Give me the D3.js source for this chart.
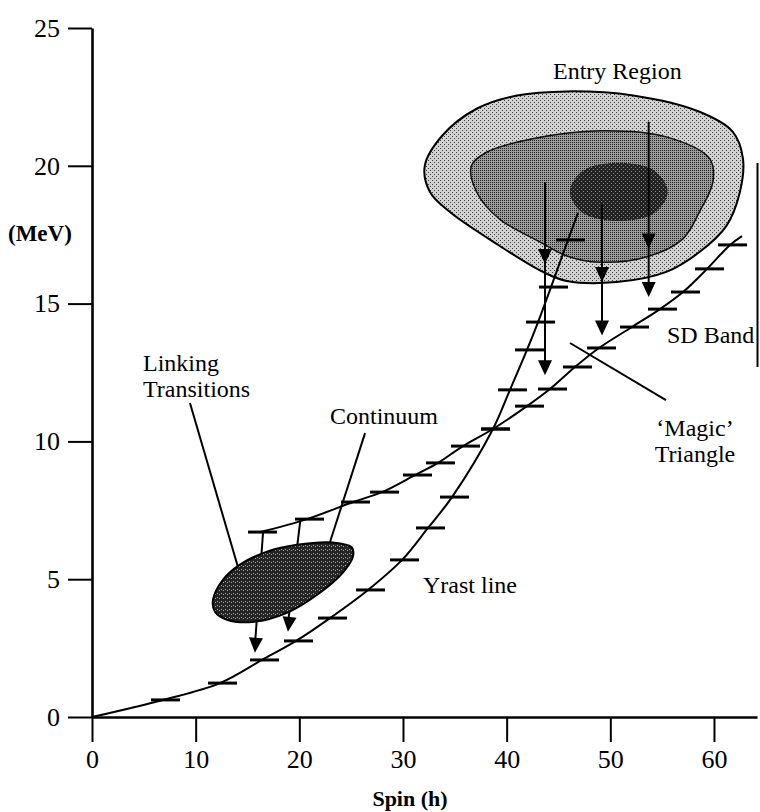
<!DOCTYPE html>
<html>
<head>
<meta charset="utf-8">
<script src="https://cdn.jsdelivr.net/npm/d3@7"></script>
<style>
  body { margin: 0; background: #fff; }
  text { font-family: "Liberation Serif", "Times New Roman", serif; fill: #000; }
</style>
</head>
<body>
<svg id="chart" width="760" height="812"></svg>
<script>
// axis ticks
const spinTicks = [0, 10, 20, 30, 40, 50, 60];
const energyTicks = [0, 5, 10, 15, 20, 25];

// yrast line levels (spin, MeV)
const yrastSpin = [6.85, 12.35, 16.4, 19.68, 22.96, 26.63, 29.91, 32.41, 34.73, 38.68, 40.32, 41.96, 43.03, 44.28, 45.92];
const yrastE    = [0.62, 1.23, 2.07, 2.76, 3.59, 4.61, 5.7, 6.86, 7.98, 10.45, 11.87, 13.32, 14.33, 15.6, 17.31];
const yrastStart = [0, 0];
const yrastEnd = [46.88, 18.29];

// superdeformed band levels
const sdSpin = [16.21, 20.74, 25.18, 27.98, 31.16, 33.38, 35.79, 38.68, 41.96, 44.18, 46.59, 48.91, 52.09, 54.79, 57.01, 59.33, 61.55];
const sdE    = [6.71, 7.18, 7.8, 8.16, 8.78, 9.22, 9.83, 10.45, 11.28, 11.9, 12.7, 13.39, 14.15, 14.8, 15.42, 16.26, 17.13];
const sdEnd = [62.7, 17.45];

// entry region contours, outer to core (spin, MeV)
const entryOuter = [[32.1, 20.0], [33.8, 21.1], [37.1, 22.07], [41.0, 22.55], [45.8, 22.7], [52.2, 22.55],
  [58.6, 21.96], [61.8, 21.24], [62.8, 20.25], [62.5, 19.05], [61.2, 17.82], [58.6, 16.87], [55.4, 16.15],
  [50.6, 15.78], [45.8, 15.82], [43.5, 16.15], [39.3, 17.1], [34.5, 18.33], [32.6, 19.05]];
const entryMiddle = [[36.6, 20.0], [38.1, 20.5], [42.5, 20.98], [49.0, 21.27], [55.4, 21.05], [59.6, 20.25],
  [59.9, 19.42], [58.6, 18.33], [57.0, 17.35], [53.8, 16.73], [49.0, 16.5], [45.8, 16.73], [43.2, 17.24],
  [39.3, 18.07], [37.1, 19.05]];
const entryCore = [[46.1, 19.05], [47.35, 19.82], [50.82, 20.11], [54.29, 19.82], [55.54, 19.05],
  [54.29, 18.29], [50.82, 18.0], [47.35, 18.29]];

// continuum blob
const continuum = [[11.67, 4.25], [12.63, 4.98], [14.27, 5.53], [16.88, 6.0], [19.77, 6.25], [23.24, 6.33],
  [25.07, 6.15], [25.17, 5.82], [24.2, 5.24], [21.99, 4.51], [18.8, 3.78], [15.53, 3.45], [13.02, 3.53], [11.86, 3.82]];

// gamma cascades from the entry region: spin, start E, first and second arrow tips
const cascadeSpin = [43.7, 49.2, 53.7];
const cascadeTop  = [19.4, 18.6, 21.6];
const cascadeMid  = [16.44, 15.78, 17.0];
const cascadeTip  = [12.4, 13.84, 15.24];

// linking transitions through the continuum [spin, E]
const linkFrom = [[16.5, 6.7], [20.1, 7.15]];
const linkTo   = [[15.72, 2.33], [18.9, 3.09]];

// label pointer lines [spin, E]
const pointerFrom = [[9.45, 11.39], [26.34, 10.3], [46.11, 13.57]];
const pointerTo   = [[14.08, 5.44], [22.96, 6.35], [55.37, 11.5]];

const svg = d3.select("#chart");
const x = d3.scaleLinear().domain([0, 64.15]).range([92, 757]);
const y = d3.scaleLinear().domain([0, 25]).range([717, 28]);

// dotted fills that mimic the halftone print
const defs = svg.append("defs");
function stipple(id, base, dot, dots) {
  const p = defs.append("pattern").attr("id", id)
    .attr("patternUnits", "userSpaceOnUse").attr("width", 4).attr("height", 4);
  p.append("rect").attr("width", 4).attr("height", 4).attr("fill", base);
  dots.forEach(d => p.append("rect").attr("x", d[0]).attr("y", d[1])
    .attr("width", 1).attr("height", 1).attr("fill", dot));
}
stipple("outerFill", "#d2d2d2", "#3c3c3c", [[0, 0], [2, 2]]);
stipple("middleFill", "#9c9c9c", "#222", [[0, 0], [2, 2], [2, 0], [0, 2]]);
stipple("coreFill", "#222", "#8c8c8c", [[1, 1], [3, 3]]);
stipple("contFill", "#242424", "#aaa", [[1, 1], [3, 2]]);

const blob = d3.line().x(d => x(d[0])).y(d => y(d[1])).curve(d3.curveCatmullRomClosed.alpha(0.5));
const curve = d3.line().x(d => x(d[0])).y(d => y(d[1])).curve(d3.curveCatmullRom.alpha(0.5));

// entry region
svg.append("path").attr("d", blob(entryOuter)).attr("fill", "url(#outerFill)")
  .attr("stroke", "#000").attr("stroke-width", 2);
svg.append("path").attr("d", blob(entryMiddle)).attr("fill", "url(#middleFill)")
  .attr("stroke", "#111").attr("stroke-width", 1.5);
svg.append("path").attr("d", blob(entryCore)).attr("fill", "url(#coreFill)").attr("stroke", "none");

// yrast line and SD band
const yrastPts = [yrastStart].concat(yrastSpin.map((s, i) => [s, yrastE[i]]), [yrastEnd]);
const sdPts = sdSpin.map((s, i) => [s, sdE[i]]).concat([sdEnd]);
svg.append("path").attr("d", curve(yrastPts)).attr("fill", "none").attr("stroke", "#000").attr("stroke-width", 2);
svg.append("path").attr("d", curve(sdPts)).attr("fill", "none").attr("stroke", "#000").attr("stroke-width", 2);

function levels(spins, es) {
  svg.append("g").selectAll("line").data(spins).join("line")
    .attr("x1", d => x(d) - 12).attr("x2", d => x(d) + 17)
    .attr("y1", (d, i) => y(es[i])).attr("y2", (d, i) => y(es[i]))
    .attr("stroke", "#000").attr("stroke-width", 3);
}
levels(yrastSpin, yrastE);
levels(sdSpin, sdE);

// arrow helper: filled head with its tip at the end point
function arrowHead(x1, y1, x2, y2) {
  const a = Math.atan2(y2 - y1, x2 - x1), L = 15, W = 7;
  const bx = x2 - L * Math.cos(a), by = y2 - L * Math.sin(a);
  const px = -Math.sin(a) * W, py = Math.cos(a) * W;
  svg.append("path").attr("d", `M${x2},${y2}L${bx + px},${by + py}L${bx - px},${by - py}Z`).attr("fill", "#000");
}

cascadeSpin.forEach((s, i) => {
  svg.append("line").attr("x1", x(s)).attr("x2", x(s))
    .attr("y1", y(cascadeTop[i])).attr("y2", y(cascadeTip[i]) - 8)
    .attr("stroke", "#000").attr("stroke-width", 2);
  arrowHead(x(s), y(cascadeTop[i]), x(s), y(cascadeMid[i]));
  arrowHead(x(s), y(cascadeMid[i]), x(s), y(cascadeTip[i]));
});

linkFrom.forEach((f, i) => {
  const t = linkTo[i];
  svg.append("line").attr("x1", x(f[0])).attr("y1", y(f[1])).attr("x2", x(t[0])).attr("y2", y(t[1]) - 8)
    .attr("stroke", "#000").attr("stroke-width", 2);
  arrowHead(x(f[0]), y(f[1]), x(t[0]), y(t[1]));
});

// continuum blob covers the middle of the linking arrows
svg.append("path").attr("d", blob(continuum)).attr("fill", "url(#contFill)")
  .attr("stroke", "#000").attr("stroke-width", 2);

// pointer lines
pointerFrom.forEach((f, i) => {
  svg.append("line").attr("x1", x(f[0])).attr("y1", y(f[1]))
    .attr("x2", x(pointerTo[i][0])).attr("y2", y(pointerTo[i][1]))
    .attr("stroke", "#000").attr("stroke-width", 2);
});

// labels
const label = (txt, s, e, anchor) => svg.append("text").attr("x", x(s)).attr("y", y(e))
  .attr("font-size", 24).attr("text-anchor", anchor || "start").text(txt);
label("Entry Region", 44.47, 23.15);
label("SD Band", 55.47, 13.57);
label("\u2018Magic\u2019", 58.17, 10.2, "middle");
label("Triangle", 58.17, 9.25, "middle");
label("Linking", 4.92, 12.55);
label("Transitions", 4.92, 11.61);
label("Continuum", 22.96, 10.63);
label("Yrast line", 31.93, 4.5);

// axes
const xAxis = svg.append("g").attr("transform", "translate(0,717)")
  .call(d3.axisBottom(x).tickValues(spinTicks).tickSize(25).tickSizeOuter(0).tickPadding(8));
const yAxis = svg.append("g").attr("transform", "translate(92,0)")
  .call(d3.axisLeft(y).tickValues(energyTicks).tickSize(24).tickSizeOuter(0).tickPadding(8));
[xAxis, yAxis].forEach(g => {
  g.attr("font-family", null).attr("font-size", null);
  g.select(".domain").attr("stroke-width", 2.6);
  g.selectAll(".tick line").attr("stroke-width", 2);
  g.selectAll(".tick text").attr("font-size", 26);
});

// scan frame edge on the right
svg.append("line").attr("x1", 757.5).attr("x2", 757.5).attr("y1", 163).attr("y2", 367)
  .attr("stroke", "#000").attr("stroke-width", 2);

svg.append("text").attr("x", 410).attr("y", 806).attr("text-anchor", "middle")
  .attr("font-size", 22).attr("font-weight", "bold").text("Spin (h)");
svg.append("text").attr("x", 8).attr("y", 241)
  .attr("font-size", 23).attr("font-weight", "bold").text("(MeV)");
</script>
</body>
</html>
